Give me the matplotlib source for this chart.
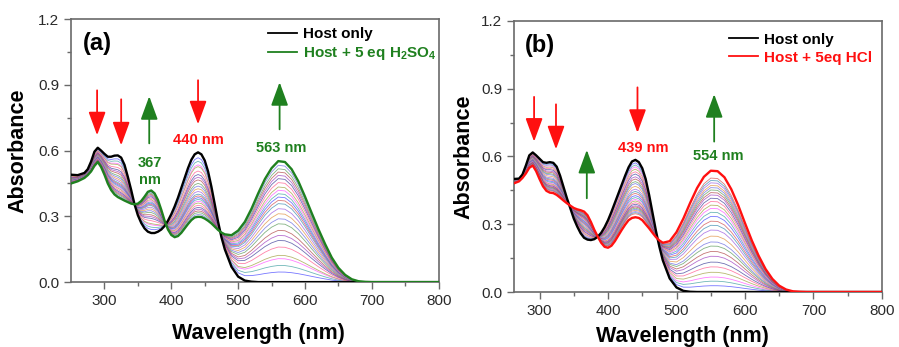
import numpy as np
import matplotlib
matplotlib.use("Agg")
import matplotlib.pyplot as plt

plt.rcParams.update({
    "font.family": ["Liberation Sans", "DejaVu Sans"],
    "mathtext.fontset": "custom",
    "mathtext.rm": "Liberation Sans:bold",
    "mathtext.it": "Liberation Sans:bold",
    "mathtext.bf": "Liberation Sans:bold",
    "mathtext.default": "regular",
})

# ---------------------------------------------------------------- data
wavelength_a = np.array([
    250, 260, 270, 275, 280, 285, 290, 295, 300, 305, 310, 315, 320, 325,
    330, 335, 340, 345, 350, 355, 360, 365, 370, 375, 380, 385, 390, 395,
    400, 405, 410, 415, 420, 425, 430, 435, 440, 445, 450, 455, 460, 465,
    470, 475, 480, 490, 500, 510, 520, 530, 540, 550, 560, 570, 580, 590,
    600, 610, 620, 630, 640, 650, 660, 670, 680, 690, 700, 800])
wavelength_b = wavelength_a[1:]

host_a = np.array([
    0.490, 0.488, 0.498, 0.515, 0.550, 0.595, 0.613, 0.600, 0.585, 0.572,
    0.572, 0.577, 0.578, 0.568, 0.535, 0.480, 0.420, 0.355, 0.305, 0.270,
    0.245, 0.230, 0.224, 0.224, 0.230, 0.240, 0.256, 0.280, 0.310, 0.345,
    0.385, 0.430, 0.475, 0.520, 0.558, 0.583, 0.592, 0.583, 0.555, 0.505,
    0.435, 0.355, 0.275, 0.205, 0.150, 0.070, 0.025, 0.007, 0.002,
    0, 0, 0, 0, 0, 0, 0, 0, 0, 0, 0, 0, 0, 0, 0, 0, 0, 0, 0])

h2so4_a = np.array([
    0.450, 0.460, 0.475, 0.488, 0.505, 0.530, 0.548, 0.525, 0.490, 0.450,
    0.420, 0.400, 0.388, 0.380, 0.372, 0.365, 0.358, 0.355, 0.358, 0.370,
    0.390, 0.412, 0.418, 0.405, 0.375, 0.330, 0.280, 0.240, 0.215, 0.205,
    0.210, 0.225, 0.245, 0.265, 0.283, 0.295, 0.298, 0.297, 0.290, 0.280,
    0.268, 0.253, 0.238, 0.226, 0.218, 0.214, 0.235, 0.275, 0.335, 0.405,
    0.470, 0.520, 0.552, 0.548, 0.515, 0.460, 0.390, 0.315, 0.242, 0.174,
    0.112, 0.065, 0.033, 0.013, 0.004, 0.001, 0, 0])

# absorbance at 563 nm after each H2SO4 addition
steps_a = [0.046, 0.076, 0.107, 0.122, 0.160, 0.190, 0.213, 0.236, 0.266,
           0.289, 0.312, 0.335, 0.358, 0.373, 0.388, 0.403, 0.419, 0.434,
           0.454, 0.472, 0.487, 0.502, 0.517, 0.533]

host_b = np.array([
    0.500, 0.502, 0.520, 0.560, 0.605, 0.618, 0.605, 0.590, 0.575, 0.572,
    0.575, 0.572, 0.555, 0.515, 0.465, 0.415, 0.370, 0.325, 0.290, 0.260,
    0.240, 0.232, 0.230, 0.234, 0.245, 0.262, 0.287, 0.318, 0.355, 0.395,
    0.435, 0.475, 0.515, 0.552, 0.578, 0.585, 0.575, 0.548, 0.500, 0.430,
    0.350, 0.270, 0.200, 0.140, 0.060, 0.020, 0.005, 0.001,
    0, 0, 0, 0, 0, 0, 0, 0, 0, 0, 0, 0, 0, 0, 0, 0, 0, 0, 0])

hcl_b = np.array([
    0.478, 0.490, 0.505, 0.525, 0.550, 0.560, 0.535, 0.500, 0.468, 0.448,
    0.440, 0.438, 0.430, 0.418, 0.405, 0.393, 0.382, 0.372, 0.366, 0.362,
    0.356, 0.340, 0.310, 0.275, 0.245, 0.218, 0.200, 0.196, 0.205, 0.225,
    0.250, 0.275, 0.298, 0.318, 0.328, 0.331, 0.328, 0.318, 0.300, 0.282,
    0.262, 0.243, 0.228, 0.218, 0.225, 0.265, 0.325, 0.395, 0.460, 0.510,
    0.537, 0.535, 0.508, 0.455, 0.385, 0.305, 0.228, 0.160, 0.102, 0.058,
    0.028, 0.011, 0.003, 0.001, 0, 0, 0])

# absorbance at 554 nm after each HCl addition
steps_b = [0.029, 0.050, 0.069, 0.091, 0.116, 0.138, 0.165, 0.187, 0.212,
           0.231, 0.258, 0.286, 0.308, 0.327, 0.349, 0.368, 0.386, 0.401,
           0.418, 0.433, 0.448, 0.459, 0.471, 0.482, 0.492, 0.504, 0.515,
           0.526]

x_ticks = [300, 400, 500, 600, 700, 800]
y_ticks = [0.0, 0.3, 0.6, 0.9, 1.2]

# ---------------------------------------------------------------- style
GREEN = "#1f801f"
RED = "#ff1010"
SPINE = "#6a6a6a"
titration_colors = ["#4a4aff", "#40a0a0", "#ff55ff", "#a0a040", "#ff5a8c",
                    "#40409a", "#a040c0", "#b04848", "#5a9a5a", "#6a6ae0",
                    "#e09040", "#9a5ae0", "#3a8ab0", "#d05050"]


def family(ax, wl, start, end, steps):
    """Intermediate titration spectra between host and end point."""
    peak = end.max()
    for i, a in enumerate(steps):
        frac = a / peak
        ax.plot(wl, start + (end - start) * frac,
                color=titration_colors[i % len(titration_colors)],
                lw=0.6, alpha=0.75, zorder=2)


def style_axes(ax, xlim):
    ax.set_xlim(*xlim)
    ax.set_ylim(0, 1.2)
    ax.set_xticks(x_ticks)
    ax.set_yticks(y_ticks)
    ax.set_yticklabels([f"{v:.1f}" for v in y_ticks])
    ax.set_xticks(np.arange(350, 800, 100), minor=True)
    ax.set_yticks(np.arange(0.15, 1.2, 0.3), minor=True)
    ax.tick_params(which="both", direction="out", colors=SPINE,
                   labelcolor="#2a2a2a", labelsize=11, width=1.0)
    ax.tick_params(which="major", length=5)
    ax.tick_params(which="minor", length=3)
    for s in ax.spines.values():
        s.set_color(SPINE)
        s.set_linewidth(1.2)


def arrow(ax, x, y0, y1, color):
    ax.annotate("", xy=(x, y1), xytext=(x, y0),
                arrowprops=dict(arrowstyle="-|>,head_length=0.9,head_width=0.33",
                                color=color, lw=1.3, shrinkA=0, shrinkB=0,
                                mutation_scale=16), zorder=5)


def legend(ax, anchor, colors):
    leg = ax.legend(loc="upper left", bbox_to_anchor=anchor,
                    frameon=False, borderpad=0, handlelength=1.9,
                    handletextpad=0.4, labelspacing=0.25,
                    prop=dict(weight="bold", size=11))
    for t, c in zip(leg.get_texts(), colors):
        t.set_color(c)
    for h in leg.get_lines():
        h.set_linewidth(1.3)


fig = plt.figure(figsize=(8.99, 3.47), dpi=100)
ax_a = fig.add_axes([0.079, 0.187, 0.409, 0.758])
ax_b = fig.add_axes([0.572, 0.1585, 0.409, 0.781])

# ---------------------------------------------------------------- panel (a)
family(ax_a, wavelength_a, host_a, h2so4_a, steps_a)
ax_a.plot(wavelength_a, host_a, color="black", lw=1.7, zorder=3,
          label="Host only")
ax_a.plot(wavelength_a, h2so4_a, color=GREEN, lw=1.7, zorder=4,
          label="Host + 5 eq H$_2$SO$_4$")
style_axes(ax_a, (250, 800))
legend(ax_a, (0.514, 0.998), ["black", GREEN])

for x, y0, y1, c in [(289, 0.875, 0.67, RED), (325, 0.834, 0.624, RED),
                     (367, 0.633, 0.848, GREEN), (440, 0.921, 0.72, RED),
                     (562, 0.697, 0.912, GREEN)]:
    arrow(ax_a, x, y0, y1, c)
ax_a.text(368, 0.505, "367\nnm", color=GREEN, fontsize=10.5, weight="bold",
          ha="center", va="center", linespacing=1.25)
ax_a.text(440, 0.65, "440 nm", color=RED, fontsize=10.5, weight="bold",
          ha="center", va="center")
ax_a.text(565, 0.61, "563 nm", color=GREEN, fontsize=10.5, weight="bold",
          ha="center", va="center")
ax_a.text(289, 1.09, "(a)", fontsize=17, weight="bold", ha="center",
          va="center")
ax_a.set_xlabel("Wavelength (nm)", fontsize=15.5, weight="bold", va="center")
ax_a.set_ylabel("Absorbance", fontsize=15.5, weight="bold", va="center")
ax_a.xaxis.set_label_coords(0.51, -0.194)
ax_a.yaxis.set_label_coords(-0.144, 0.5)

# ---------------------------------------------------------------- panel (b)
family(ax_b, wavelength_b, host_b, hcl_b, steps_b)
ax_b.plot(wavelength_b, host_b, color="black", lw=1.7, zorder=3,
          label="Host only")
ax_b.plot(wavelength_b, hcl_b, color=RED, lw=1.7, zorder=4,
          label="Host + 5eq HCl")
style_axes(ax_b, (263, 800))
legend(ax_b, (0.564, 0.985), ["black", RED])

for x, y0, y1, c in [(292, 0.864, 0.666, RED), (324, 0.831, 0.632, RED),
                     (369, 0.415, 0.629, GREEN), (443, 0.906, 0.705, RED),
                     (555, 0.666, 0.876, GREEN)]:
    arrow(ax_b, x, y0, y1, c)
ax_b.text(451, 0.636, "439 nm", color=RED, fontsize=10.5, weight="bold",
          ha="center", va="center")
ax_b.text(561, 0.604, "554 nm", color=GREEN, fontsize=10.5, weight="bold",
          ha="center", va="center")
ax_b.text(301, 1.093, "(b)", fontsize=17, weight="bold", ha="center",
          va="center")
ax_b.set_xlabel("Wavelength (nm)", fontsize=15.5, weight="bold", va="center")
ax_b.set_ylabel("Absorbance", fontsize=15.5, weight="bold", va="center")
ax_b.xaxis.set_label_coords(0.458, -0.164)
ax_b.yaxis.set_label_coords(-0.138, 0.5)

fig.savefig("out.png", dpi=100, facecolor="white")
